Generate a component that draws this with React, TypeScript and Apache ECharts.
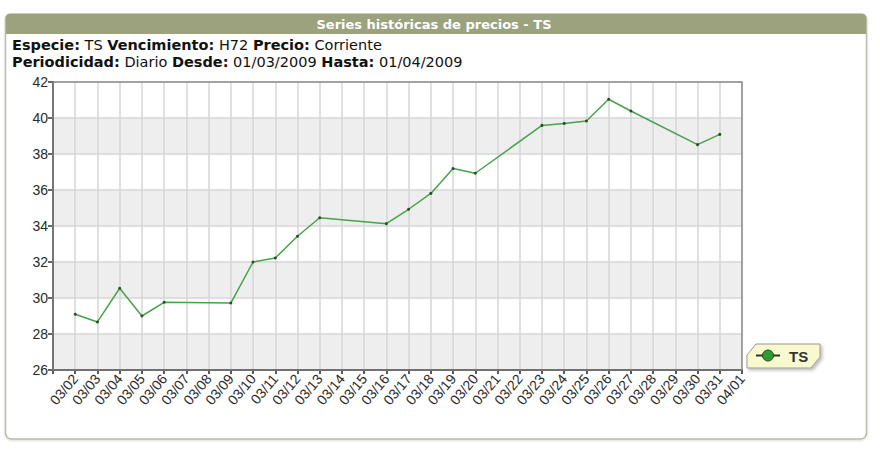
import React, { useEffect, useRef } from "react";
import * as echarts from "echarts";

const categories = [
  "03/01", "03/02", "03/03", "03/04", "03/05", "03/06", "03/07", "03/08",
  "03/09", "03/10", "03/11", "03/12", "03/13", "03/14", "03/15", "03/16",
  "03/17", "03/18", "03/19", "03/20", "03/21", "03/22", "03/23", "03/24",
  "03/25", "03/26", "03/27", "03/28", "03/29", "03/30", "03/31", "04/01",
];

const prices: (number | null)[] = [
  null, 29.1, 28.67, 30.54, 29.0, 29.76, null, null,
  29.72, 32.0, 32.22, 33.43, 34.46, null, null, 34.13,
  34.93, 35.81, 37.19, 36.93, null, null, 39.59, 39.7,
  39.83, 41.04, 40.39, null, null, 38.52, 39.09, null,
];

const seriesName = "TS";
const titleText = "Series históricas de precios - TS";
const headerLine1 = "{b|Especie:} TS {b|Vencimiento:} H72 {b|Precio:} Corriente";
const headerLine2 = "{b|Periodicidad:} Diario {b|Desde:} 01/03/2009 {b|Hasta:} 01/04/2009";
const yMin = 26;
const yMax = 42;
const yStep = 2;

const headerFont = "'DejaVu Sans', Verdana, sans-serif";
const axisFont = "'Liberation Sans', Arial, sans-serif";

export default function App() {
  const ref = useRef<HTMLDivElement>(null);

  useEffect(() => {
    if (!ref.current) return;
    const chart = echarts.init(ref.current, undefined, { renderer: "svg" });
    chart.setOption({
      animation: false,
      backgroundColor: "#ffffff",
      grid: {
        left: 53,
        top: 82,
        right: 138,
        bottom: 80,
        show: true,
        borderColor: "#8c8c8c",
        borderWidth: 1.5,
        backgroundColor: "transparent",
        z: 3,
      },
      xAxis: {
        type: "category",
        data: categories,
        boundaryGap: false,
        axisLine: { show: true, lineStyle: { color: "#222222", width: 2 } },
        axisTick: { show: true, length: 4, interval: 0, lineStyle: { color: "#222222", width: 1.5 } },
        axisLabel: {
          interval: (idx: number) => idx > 0,
          rotate: 50,
          fontSize: 14,
          fontFamily: axisFont,
          color: "#2a2a2a",
          margin: 6,
        },
        splitLine: { show: true, interval: 0, lineStyle: { color: "#d6d6d6", width: 1.5 } },
      },
      yAxis: {
        type: "value",
        min: yMin,
        max: yMax,
        interval: yStep,
        axisLine: { show: true, lineStyle: { color: "#333333", width: 2 } },
        axisTick: { show: true, length: 5, lineStyle: { color: "#333333", width: 1.5 } },
        axisLabel: {
          fontSize: 14,
          fontFamily: axisFont,
          color: "#2a2a2a",
          margin: 5,
        },
        splitLine: { show: true, lineStyle: { color: "#d6d6d6", width: 1.5 } },
        splitArea: { show: true, areaStyle: { color: ["#eeeeee", "#ffffff"] } },
      },
      series: [
        {
          name: seriesName,
          type: "line",
          data: prices,
          connectNulls: true,
          symbol: "circle",
          symbolSize: 3,
          showSymbol: true,
          itemStyle: { color: "#245224" },
          lineStyle: { color: "#45a34a", width: 1.5 },
          z: 5,
        },
      ],
      graphic: [
        {
          type: "rect",
          z: -10,
          shape: { x: 5.5, y: 14, width: 861, height: 425, r: [5, 5, 6, 6] },
          style: { fill: "#ffffff", stroke: "#b9bda6", lineWidth: 1.5, shadowBlur: 2, shadowOffsetY: 1, shadowColor: "rgba(0,0,0,0.15)" },
        },
        {
          type: "rect",
          z: -9,
          shape: { x: 6, y: 14, width: 860, height: 20, r: [4, 4, 0, 0] },
          style: { fill: "#9ca17e" },
        },
        {
          type: "text",
          x: 434,
          y: 24,
          style: {
            text: titleText,
            fill: "#ffffff",
            font: "bold 13px 'DejaVu Sans', Verdana, sans-serif",
            align: "center",
            verticalAlign: "middle",
          },
        },
        {
          type: "text",
          x: 12,
          y: 45,
          style: {
            text: headerLine1,
            fill: "#111111",
            fontSize: 14.5,
            fontFamily: headerFont,
            verticalAlign: "middle",
            rich: { b: { fontWeight: "bold", fontSize: 14.5, fontFamily: headerFont, fill: "#111111" } },
          },
        },
        {
          type: "text",
          x: 12,
          y: 62,
          style: {
            text: headerLine2,
            fill: "#111111",
            fontSize: 14.5,
            fontFamily: headerFont,
            verticalAlign: "middle",
            rich: { b: { fontWeight: "bold", fontSize: 14.5, fontFamily: headerFont, fill: "#111111" } },
          },
        },
        {
          type: "polygon",
          z: 10,
          shape: { points: [[747, 355], [756, 344], [820, 344], [820, 357], [811, 368], [747, 368]] },
          style: { fill: "#f9f9cf", stroke: "#9a9a8a", lineWidth: 1, shadowBlur: 3, shadowOffsetX: 2, shadowOffsetY: 2, shadowColor: "rgba(0,0,0,0.25)" },
        },
        {
          type: "line",
          z: 11,
          shape: { x1: 756, y1: 355.5, x2: 780, y2: 355.5 },
          style: { stroke: "#333333", lineWidth: 2 },
        },
        {
          type: "circle",
          z: 12,
          shape: { cx: 768, cy: 355.5, r: 5.5 },
          style: { fill: "#2f9a2f", stroke: "#1d4d1d", lineWidth: 1 },
        },
        {
          type: "text",
          z: 12,
          x: 789,
          y: 356,
          style: {
            text: seriesName,
            fill: "#333333",
            font: "bold 15px 'Liberation Sans', Arial, sans-serif",
            verticalAlign: "middle",
          },
        },
      ],
    });
    return () => chart.dispose();
  }, []);

  return (
    <div
      ref={ref}
      style={{ position: "fixed", left: 0, top: 0, width: 880, height: 450 }}
    />
  );
}
